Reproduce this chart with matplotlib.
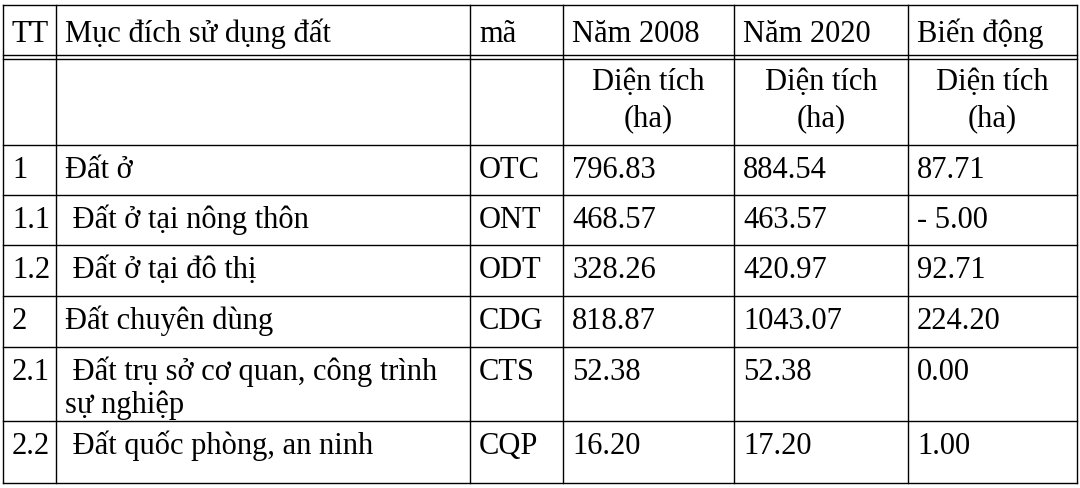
import matplotlib.pyplot as plt

# Table content
codes_tt = ['1', '1.1', '1.2', '2', '2.1', '2.2']
purposes = ['Đất ở', ' Đất ở tại nông thôn', ' Đất ở tại đô thị', 'Đất chuyên dùng',
            ' Đất trụ sở cơ quan, công trình\nsự nghiệp', ' Đất quốc phòng, an ninh']
codes = ['OTC', 'ONT', 'ODT', 'CDG', 'CTS', 'CQP']
area_2008 = ['796.83', '468.57', '328.26', '818.87', '52.38', '16.20']
area_2020 = ['884.54', '463.57', '420.97', '1043.07', '52.38', '17.20']
change = ['87.71', '- 5.00', '92.71', '224.20', '0.00', '1.00']
headers = ['TT', 'Mục đích sử dụng đất', 'mã', 'Năm 2008', 'Năm 2020', 'Biến động']

col_x = [3, 56, 470, 563, 734, 908, 1077]
row_y = [5, 55, 145, 195, 245, 296, 347, 421, 483]

plt.rcParams['font.family'] = ['Liberation Serif', 'DejaVu Serif']
fig = plt.figure(figsize=(10.8, 4.88), dpi=100)
ax = fig.add_axes([0, 0, 1, 1])
ax.set_xlim(0, 1080)
ax.set_ylim(488, 0)
ax.axis('off')

lw = 1.0
for x in col_x:
    ax.plot([x, x], [row_y[0], row_y[-1]], color='black', lw=lw)
for y in row_y:
    ax.plot([col_x[0], col_x[-1]], [y, y], color='black', lw=lw)
ax.plot([col_x[0], col_x[-1]], [row_y[1] + 4, row_y[1] + 4], color='black', lw=lw)

fs = 22
pad = 9
line_h = 33
for i, h in enumerate(headers):
    ax.text(col_x[i] + pad, row_y[0] + 37, h, fontsize=fs, va='baseline', ha='left')

for i in range(3, 6):
    cx = (col_x[i] + col_x[i + 1]) / 2
    ax.text(cx, 90, 'Diện tích', fontsize=fs, va='baseline', ha='center')
    ax.text(cx, 90 + line_h + 3, '(ha)', fontsize=fs, va='baseline', ha='center')

for r in range(len(codes)):
    y = row_y[r + 2] + 33
    vals = [codes_tt[r], purposes[r], codes[r], area_2008[r], area_2020[r], change[r]]
    for i, v in enumerate(vals):
        for k, part in enumerate(v.split('\n')):
            ax.text(col_x[i] + pad, y + k * line_h, part, fontsize=fs,
                    va='baseline', ha='left')

fig.savefig('out.png', dpi=100)
